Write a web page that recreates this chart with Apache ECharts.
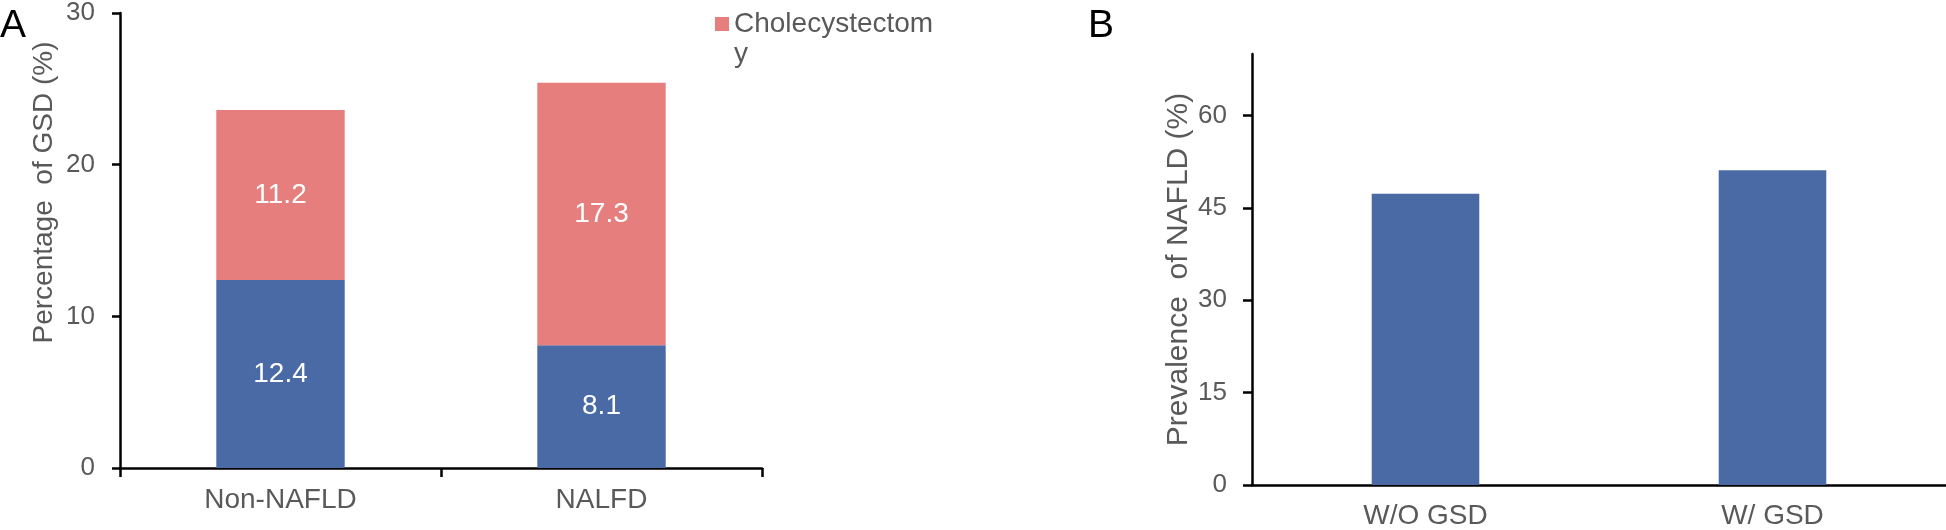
<!DOCTYPE html>
<html>
<head>
<meta charset="utf-8">
<script src="https://cdn.jsdelivr.net/npm/echarts@6/dist/echarts.min.js"></script>
<style>
  html, body { margin: 0; padding: 0; background: #fff; }
  #chart { width: 1946px; height: 530px; }
</style>
</head>
<body>
<div id="chart"></div>
<script>
// panel A - stacked bars
const catsA = ['Non-NAFLD', 'NALFD'];
const gsdA = [12.4, 8.1];
const cholA = [11.2, 17.3];
const ticksA = [0, 10, 20, 30];

// panel B
const catsB = ['W/O GSD', 'W/ GSD'];
const nafldB = [47.3, 51.1];
const ticksB = [0, 15, 30, 45, 60];

const FONT = "'Liberation Sans', Arial, sans-serif";
const GREY = '#595959';
const BLUE = '#4a6aa6';
const RED = '#e67e7e';

let myChart = echarts.init(document.getElementById('chart'));

let axisLine = { show: true, lineStyle: { color: '#000', width: 2.5 } };

let option = {
    animation: false,
    textStyle: { fontFamily: FONT },
    grid: [
        { left: 120, right: 1184, top: 11, bottom: 62 },
        { left: 1252, right: 0, top: 54, bottom: 43 }
    ],
    legend: {
        data: ['Cholecystectomy'],
        left: 715,
        top: -21,
        padding: 0,
        itemWidth: 14,
        itemHeight: 14,
        icon: 'rect',
        // the original legend wraps the word; empty first line keeps the icon on line one
        formatter: () => '\nCholecystectom\ny',
        textStyle: { color: GREY, fontSize: 28, lineHeight: 30 }
    },
    graphic: [
        { type: 'text', left: 0, top: 7, style: { text: 'A', fontSize: 39, fill: '#000', fontFamily: FONT } },
        { type: 'text', left: 1088, top: 7, style: { text: 'B', fontSize: 39, fill: '#000', fontFamily: FONT } }
    ],
    xAxis: [
        {
            gridIndex: 0,
            type: 'category',
            data: catsA,
            axisLine: axisLine,
            axisTick: { show: true, length: 9, lineStyle: { color: '#000', width: 2.5 } },
            axisLabel: { color: GREY, fontSize: 28, margin: 18 }
        },
        {
            gridIndex: 1,
            type: 'category',
            data: catsB,
            axisLine: axisLine,
            axisTick: { show: false },
            axisLabel: { color: GREY, fontSize: 28, margin: 17 }
        }
    ],
    yAxis: [
        {
            gridIndex: 0,
            type: 'value',
            min: 0,
            max: 30,
            interval: 10,
            name: 'Percentage  of GSD (%)',
            nameLocation: 'middle',
            nameGap: 62,
            nameTextStyle: { color: GREY, fontSize: 28, padding: [0, 0, 0, 96] },
            axisLine: axisLine,
            axisTick: { show: true, length: 8, lineStyle: { color: '#000', width: 2.5 } },
            axisLabel: { color: GREY, fontSize: 26, margin: 25, customValues: ticksA },
            splitLine: { show: false }
        },
        {
            gridIndex: 1,
            type: 'value',
            min: 0,
            max: 70,
            name: 'Prevalence  of NAFLD (%)',
            nameLocation: 'middle',
            nameGap: 56,
            nameTextStyle: { color: GREY, fontSize: 30 },
            axisLine: axisLine,
            axisTick: { show: true, length: 9, customValues: ticksB, lineStyle: { color: '#000', width: 2.5 } },
            axisLabel: { color: GREY, fontSize: 26, margin: 25, customValues: ticksB },
            splitLine: { show: false }
        }
    ],
    series: [
        {
            name: 'Gallstone',
            type: 'bar',
            stack: 'a',
            xAxisIndex: 0,
            yAxisIndex: 0,
            barWidth: '40%',
            itemStyle: { color: BLUE },
            label: { show: true, position: 'inside', color: '#fff', fontSize: 28 },
            data: gsdA
        },
        {
            name: 'Cholecystectomy',
            type: 'bar',
            stack: 'a',
            xAxisIndex: 0,
            yAxisIndex: 0,
            barWidth: '40%',
            itemStyle: { color: RED },
            label: { show: true, position: 'inside', color: '#fff', fontSize: 28 },
            data: cholA
        },
        {
            name: 'NAFLD',
            type: 'bar',
            xAxisIndex: 1,
            yAxisIndex: 1,
            barWidth: '31%',
            itemStyle: { color: BLUE },
            data: nafldB
        }
    ]
};

myChart.setOption(option);
</script>
</body>
</html>
